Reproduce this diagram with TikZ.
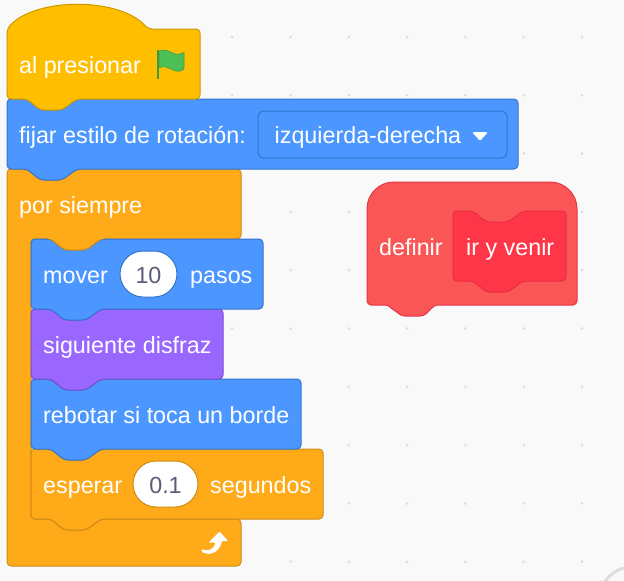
\documentclass[tikz,border=0pt]{standalone}
\usepackage{fontspec}
\setmainfont{Liberation Sans}
\definecolor{bgc}{HTML}{F9F9F9}
\definecolor{dotc}{HTML}{DDDDDD}
\definecolor{hatf}{HTML}{FFBF00}
\definecolor{hatd}{HTML}{CC9900}
\definecolor{bluef}{HTML}{4C97FF}
\definecolor{blued}{HTML}{3373CC}
\definecolor{orangef}{HTML}{FFAB19}
\definecolor{oranged}{HTML}{CF8B17}
\definecolor{purplef}{HTML}{9966FF}
\definecolor{purpled}{HTML}{774DCB}
\definecolor{redf}{HTML}{FA5656}
\definecolor{redd}{HTML}{E8344A}
\definecolor{redi}{HTML}{FF3648}
\definecolor{redid}{HTML}{E62E42}
\definecolor{numc}{HTML}{575E75}
\definecolor{flagf}{HTML}{4CBF56}
\definecolor{flagd}{HTML}{45993D}
\tikzset{
  shp/.style={line width=1pt,line join=round,rounded corners=4pt},
  hatblock/.style={shp,fill=hatf,draw=hatd},
  blueblock/.style={shp,fill=bluef,draw=blued},
  orangeblock/.style={shp,fill=orangef,draw=oranged},
  purpleblock/.style={shp,fill=purplef,draw=purpled},
  defblock/.style={shp,fill=redf,draw=redd},
  protoblock/.style={shp,fill=redi,draw=redid},
  lbl/.style={inner sep=0pt,anchor=base west,text=white,font=\fontsize{23.3}{28}\selectfont},
  pill/.style={draw,fill=white,line width=1pt,rounded corners=23pt},
  numlbl/.style={inner sep=0pt,anchor=base,text=numc,font=\fontsize{23.3}{28}\selectfont},
  griddot/.style={fill=dotc,draw=none},
}
% x0, x1, ytop, ybottom : stack block with an indent on top and a bump below
\def\stackshape#1#2#3#4{(#1,#3) -- ({#1+20},#3) -- ({#1+33},{#3+11}) -- ({#1+55},{#3+11}) -- ({#1+70},#3) -- (#2,#3) -- (#2,#4) -- ({#1+70},#4) -- ({#1+55},{#4+11}) -- ({#1+33},{#4+11}) -- ({#1+20},#4) -- (#1,#4) -- cycle}
\begin{document}
\begin{tikzpicture}[x=1pt,y=-1pt]
\useasboundingbox (0,0) rectangle (624,581);
\fill[bgc] (0,0) rectangle (624,581);
% workspace dots
\foreach \gx in {-1,57.3,115.6,174,232.2,290.5,348.8,407.1,465.4,523.7,582}
  \foreach \gy in {37,95.3,153.6,211.9,270.2,328.5,386.8,445.1,503.4,561.7}
    \fill[griddot] (\gx,\gy) circle (1.5);
% corner control
\draw[dotc,line width=3pt] (605,582) .. controls (610,574) and (617,569.5) .. (625,568);
% C block
\draw[orangeblock] (7,169) -- (27,169) -- (40,180) -- (62,180) -- (77,169) -- (241,169) -- (241,239) -- (101,239) -- (86,250) -- (64,250) -- (51,239) -- (31,239) -- (31,519) -- (51,519) -- (64,530) -- (86,530) -- (101,519) -- (241,519) -- (241,566) -- (7,566) -- cycle;
% inner stack, lowest first so each bump lies on the block below
\draw[orangeblock] \stackshape{31}{323}{449}{519};
\draw[blueblock] \stackshape{31}{301}{379}{449};
\draw[purpleblock] \stackshape{31}{223}{309}{379};
\draw[blueblock] \stackshape{31}{263}{239}{309};
% bump of the C arm over the first inner block
\draw[orangeblock] (49,238.5) -- (51,239) -- (64,250) -- (86,250) -- (101,239) -- (103,238.5);
\fill[orangef] (48,237) rectangle (104,239);
% top of the stack
\draw[blueblock] \stackshape{7}{518}{99}{169};
\draw[hatblock] (7,29) .. controls (35,-3) and (120,-3) .. (148,29) -- (200,29) -- (200,99) -- (77,99) -- (62,110) -- (40,110) -- (27,99) -- (7,99) -- cycle;
% flag
\draw[flagd,line width=2.2pt] (158,50) -- (158,78.5);
\draw[fill=flagf,draw=flagd,line width=0.6pt,rounded corners=1pt] (159,51) .. controls (165,49) and (171,52) .. (175,54) .. controls (178,55) and (181,54) .. (184,52) -- (184,69) .. controls (180,72) and (176,71.5) .. (172,69.5) .. controls (167,67) and (163,66) .. (159,68) -- cycle;
% dropdown
\draw[fill=bluef,draw=blued,line width=1pt,rounded corners=6pt] (258,111) rectangle (507,158);
\fill[white,rounded corners=1.5pt] (472,132) -- (488,132) -- (480,141) -- cycle;
% number pills
\draw[pill,draw=blued] (120,251) rectangle (177,297);
\draw[pill,draw=oranged] (133,461) rectangle (198,507);
% loop arrow
\fill[white,rounded corners=0.8pt] (201.5,549) .. controls (208,552) and (214,549) .. (215.5,542.5) -- (208.5,542.5) -- (219.5,531.5) -- (228,541) -- (222,541) .. controls (220,550) and (212,557) .. (202,552) -- cycle;
% define block
\draw[line width=1pt,fill=redf,draw=redd,line join=round] (367,209) .. controls (367,194) and (379,182) .. (394,182) -- (550,182) .. controls (565,182) and (577,194) .. (577,209) -- (577,301) .. controls (577,303) and (575,305) .. (573,305) -- (438,305) .. controls (435,305) and (434,306) .. (432,308) -- (427,313) .. controls (425,315) and (423,316) .. (420,316) -- (405,316) .. controls (402,316) and (400,315) .. (398,313) -- (391,308) .. controls (389,306) and (388,305) .. (385,305) -- (371,305) .. controls (369,305) and (367,303) .. (367,301) -- cycle;
\draw[protoblock] \stackshape{453}{566}{211}{281};
% texts
\node[lbl] (t1) at (19,73) {al presionar};
\node[lbl] (t2) at (19,143) {fijar estilo de rotación:};
\node[lbl] (t3) at (274.5,143) {izquierda-derecha};
\node[lbl] (t4) at (19,213) {por siempre};
\node[lbl] (t5) at (43,283) {mover};
\node[numlbl] (t6) at (148.5,283) {10};
\node[lbl] (t7) at (190,283) {pasos};
\node[lbl] (t8) at (43,353) {siguiente disfraz};
\node[lbl] (t9) at (43,423) {rebotar si toca un borde};
\node[lbl] (t10) at (43,493) {esperar};
\node[numlbl] (t11) at (165.5,493) {0.1};
\node[lbl] (t12) at (210,493) {segundos};
\node[lbl] (t13) at (379,255) {definir};
\node[lbl] (t14) at (466,255) {ir y venir};
\end{tikzpicture}
\end{document}
